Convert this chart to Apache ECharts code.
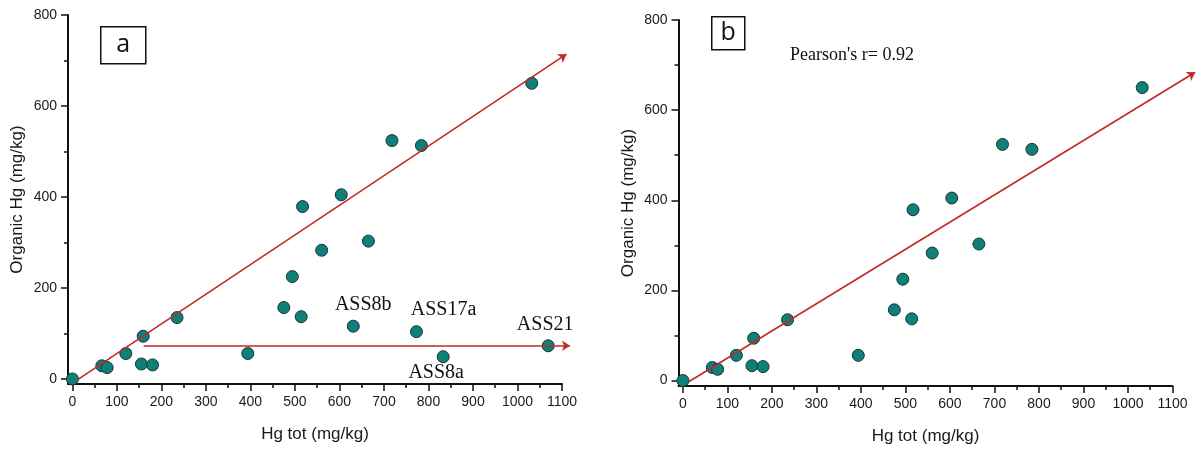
<!DOCTYPE html>
<html>
<head>
<meta charset="utf-8">
<script src="https://cdn.jsdelivr.net/npm/echarts@6/dist/echarts.min.js"></script>
<style>
  html, body { margin: 0; padding: 0; background: #ffffff; }
  #chart { width: 1204px; height: 450px; }
</style>
</head>
<body>
<div id="chart"></div>
<script>
// Hg tot vs organic Hg (mg/kg) for the sampling sites
const sampleHgTot = [0, 66, 78, 120, 159, 155, 180, 235, 394, 475, 494, 514, 517, 560, 604, 665, 718, 784, 1032];
const sampleOrgHg = [0, 29, 25, 56, 94, 33, 31, 135, 56, 157, 225, 137, 379, 283, 405, 303, 524, 513, 650];

// samples that fall off the main trend (panel a only)
const outlierNames = ['ASS8b', 'ASS17a', 'ASS8a', 'ASS21'];
const outlierHgTot = [631, 773, 833, 1069];
const outlierOrgHg = [116, 104, 49, 73];

// trend lines (start / end points in data units)
const trendA = [[11, -2], [1110, 714]];
const baseA = [[160, 73], [1118, 73]];
const trendB = [[14, -2], [1151, 684]];

// axis ticks
const xMajorTicks = [0, 100, 200, 300, 400, 500, 600, 700, 800, 900, 1000, 1100];
const xMinorTicks = [50, 150, 250, 350, 450, 550, 650, 750, 850, 950, 1050];
const yMajorTicks = [0, 200, 400, 600, 800];
const yMinorTicks = [100, 300, 500, 700];

const sans = '"Liberation Sans", Arial, sans-serif';
const serif = '"Liberation Serif", "Times New Roman", serif';
const axisColor = '#111111';
const textColor = '#1a1a1a';
const lineRed = '#c02a26';
const teal = '#0f7f7a';

const samplePoints = sampleHgTot.map((x, i) => [x, sampleOrgHg[i]]);

// label placement for the named samples
const outlierLabelPos = {
  ASS8b: { position: 'top', offset: [10, 0] },
  ASS17a: { position: 'top', offset: [27, 0] },
  ASS8a: { position: 'bottom', offset: [-7, -5] },
  ASS21: { position: 'top', offset: [-3, 0] }
};
const outlierPoints = outlierNames.map((name, i) => ({
  name: name,
  value: [outlierHgTot[i], outlierOrgHg[i]],
  label: Object.assign({
    show: true,
    formatter: '{b}',
    fontFamily: serif,
    fontSize: 20,
    color: '#111111'
  }, outlierLabelPos[name])
}));

const plainNumber = v => String(v);

function xAxes(gridIndex) {
  const base = { type: 'value', gridIndex: gridIndex, min: -10, max: 1100, position: 'bottom', splitLine: { show: false } };
  return [
    Object.assign({}, base, {
      name: 'Hg tot (mg/kg)',
      nameLocation: 'middle',
      nameGap: 42,
      nameTextStyle: { fontFamily: sans, fontSize: 17, color: textColor },
      axisLine: { show: true, onZero: false, lineStyle: { color: axisColor, width: 2 } },
      axisTick: { show: true, length: 7, customValues: xMajorTicks, lineStyle: { color: axisColor, width: 1.5 } },
      axisLabel: { show: true, customValues: xMajorTicks, formatter: plainNumber, margin: 11, fontFamily: sans, fontSize: 14, color: textColor }
    }),
    Object.assign({}, base, {
      axisLine: { show: false, onZero: false },
      axisTick: { show: true, length: 4, customValues: xMinorTicks, lineStyle: { color: axisColor, width: 1.5 } },
      axisLabel: { show: false }
    })
  ];
}

function yAxes(gridIndex, minVal) {
  const base = { type: 'value', gridIndex: gridIndex, min: minVal, max: 800, position: 'left', splitLine: { show: false } };
  return [
    Object.assign({}, base, {
      name: 'Organic Hg (mg/kg)',
      nameLocation: 'middle',
      nameGap: 42,
      nameTextStyle: { fontFamily: sans, fontSize: 17, color: textColor },
      axisLine: { show: true, onZero: false, lineStyle: { color: axisColor, width: 2 } },
      axisTick: { show: true, length: 7, customValues: yMajorTicks, lineStyle: { color: axisColor, width: 1.5 } },
      axisLabel: { show: true, customValues: yMajorTicks, formatter: plainNumber, margin: 11, fontFamily: sans, fontSize: 14, color: textColor }
    }),
    Object.assign({}, base, {
      axisLine: { show: false, onZero: false },
      axisTick: { show: true, length: 4, customValues: yMinorTicks, lineStyle: { color: axisColor, width: 1.5 } },
      axisLabel: { show: false }
    })
  ];
}

const markerStyle = { color: teal, borderColor: '#1b3433', borderWidth: 1, opacity: 1 };

function arrowLine(xi, yi, coords) {
  return {
    type: 'lines',
    coordinateSystem: 'cartesian2d',
    xAxisIndex: xi,
    yAxisIndex: yi,
    clip: false,
    silent: true,
    z: 5,
    symbol: ['none', 'arrow'],
    symbolSize: 8,
    lineStyle: { color: lineRed, width: 1.6, opacity: 1 },
    data: [{ coords: coords }]
  };
}

function boxLabel(left, top, w, h, letter) {
  return {
    type: 'group',
    left: left,
    top: top,
    children: [
      { type: 'rect', shape: { x: 0, y: 0, width: w, height: h }, style: { fill: '#ffffff', stroke: '#111111', lineWidth: 1.5 } },
      { type: 'text', x: w / 2, y: h / 2, style: { text: letter, fontFamily: '"Open Sans", sans-serif', fontSize: 25, fill: '#111111', align: 'center', verticalAlign: 'middle' } }
    ]
  };
}

const option = {
  backgroundColor: '#ffffff',
  animation: false,
  grid: [
    { left: 68, top: 15, width: 494, height: 369 },
    { left: 678.5, top: 20, width: 494, height: 369 }
  ],
  xAxis: xAxes(0).concat(xAxes(1)),
  yAxis: yAxes(0, -11).concat(yAxes(1, -12)),
  graphic: [
    boxLabel(100, 26, 45, 37, 'a'),
    boxLabel(711, 16, 33, 33, 'b'),
    {
      type: 'text',
      left: 790,
      top: 46,
      style: { text: "Pearson's r= 0.92", fontFamily: serif, fontSize: 18, fill: '#111111' }
    }
  ],
  series: [
    {
      type: 'scatter',
      xAxisIndex: 0,
      yAxisIndex: 0,
      symbol: 'circle',
      symbolSize: 12,
      itemStyle: markerStyle,
      z: 3,
      data: samplePoints.concat(outlierPoints)
    },
    arrowLine(0, 0, trendA),
    arrowLine(0, 0, baseA),
    {
      type: 'scatter',
      xAxisIndex: 2,
      yAxisIndex: 2,
      symbol: 'circle',
      symbolSize: 12,
      itemStyle: markerStyle,
      z: 3,
      data: samplePoints
    },
    arrowLine(2, 2, trendB)
  ]
};

const chart = echarts.init(document.getElementById('chart'), null, { renderer: 'canvas' });
chart.setOption(option);
</script>
</body>
</html>
